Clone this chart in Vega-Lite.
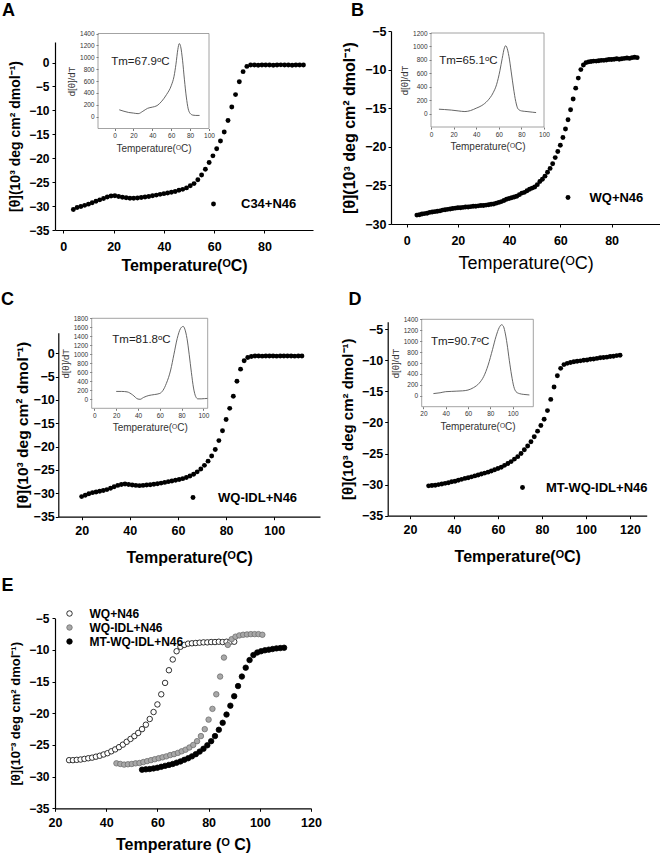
{
"$schema": "https://vega.github.io/schema/vega-lite/v6.json",
"width": 660, "height": 856, "autosize": "none", "padding": 0,
"config": {"view": {"stroke": null}, "axis": {"grid": false, "labelFont": "Liberation Sans", "titleFont": "Liberation Sans", "labelFlush": false, "labelOverlap": false, "format": "d"}, "text": {"font": "Liberation Sans"}},
"datasets": {
"a": [{"t":4,"v":-30.7},{"t":5.5,"v":-30.3},{"t":7,"v":-30.1},{"t":8.5,"v":-29.85},{"t":10,"v":-29.6},{"t":11.5,"v":-29.3},{"t":13,"v":-29.0},{"t":14.5,"v":-28.7},{"t":16,"v":-28.4},{"t":17.5,"v":-28.1},{"t":19,"v":-27.9},{"t":20.5,"v":-27.85},{"t":22,"v":-28.0},{"t":23.5,"v":-28.15},{"t":25,"v":-28.25},{"t":26.5,"v":-28.35},{"t":28,"v":-28.35},{"t":29.5,"v":-28.3},{"t":31,"v":-28.2},{"t":32.5,"v":-28.1},{"t":34,"v":-28.0},{"t":35.5,"v":-27.85},{"t":37,"v":-27.7},{"t":38.5,"v":-27.55},{"t":40,"v":-27.4},{"t":41.5,"v":-27.25},{"t":43,"v":-27.1},{"t":44.5,"v":-26.95},{"t":46,"v":-26.7},{"t":47.5,"v":-26.5},{"t":49,"v":-26.2},{"t":50.5,"v":-25.75},{"t":52,"v":-25.3},{"t":53.5,"v":-24.5},{"t":55,"v":-23.5},{"t":56.5,"v":-22.3},{"t":58,"v":-20.9},{"t":59.5,"v":-19.5},{"t":61,"v":-18.0},{"t":62.5,"v":-16.4},{"t":64,"v":-14.5},{"t":65.5,"v":-12.1},{"t":67,"v":-9.3},{"t":68.5,"v":-6.7},{"t":70,"v":-4.0},{"t":71.5,"v":-1.9},{"t":73,"v":-0.8},{"t":74.5,"v":-0.5},{"t":76,"v":-0.5},{"t":77.5,"v":-0.55},{"t":79,"v":-0.5},{"t":80.5,"v":-0.52},{"t":82,"v":-0.5},{"t":83.5,"v":-0.55},{"t":85,"v":-0.5},{"t":86.5,"v":-0.48},{"t":88,"v":-0.52},{"t":89.5,"v":-0.5},{"t":91,"v":-0.55},{"t":92.5,"v":-0.5},{"t":94,"v":-0.52},{"t":95.5,"v":-0.5}],
"b": [{"t":4,"v":-28.85},{"t":5,"v":-28.8},{"t":6,"v":-28.7},{"t":7,"v":-28.65},{"t":8,"v":-28.6},{"t":9,"v":-28.5},{"t":10,"v":-28.45},{"t":11,"v":-28.4},{"t":12,"v":-28.35},{"t":13,"v":-28.3},{"t":14,"v":-28.2},{"t":15,"v":-28.15},{"t":16,"v":-28.1},{"t":17,"v":-28.05},{"t":18,"v":-28.0},{"t":19,"v":-27.95},{"t":20,"v":-27.9},{"t":21,"v":-27.9},{"t":22,"v":-27.85},{"t":23,"v":-27.8},{"t":24,"v":-27.8},{"t":25,"v":-27.75},{"t":26,"v":-27.7},{"t":27,"v":-27.7},{"t":28,"v":-27.65},{"t":29,"v":-27.6},{"t":30,"v":-27.6},{"t":31,"v":-27.55},{"t":32,"v":-27.5},{"t":33,"v":-27.45},{"t":34,"v":-27.4},{"t":35,"v":-27.3},{"t":36,"v":-27.2},{"t":37,"v":-27.1},{"t":38,"v":-26.95},{"t":39,"v":-26.8},{"t":40,"v":-26.7},{"t":41,"v":-26.6},{"t":42,"v":-26.5},{"t":43,"v":-26.4},{"t":44,"v":-26.2},{"t":45,"v":-26.0},{"t":46,"v":-25.9},{"t":47,"v":-25.7},{"t":48,"v":-25.5},{"t":49,"v":-25.35},{"t":50,"v":-25.2},{"t":51,"v":-24.9},{"t":52,"v":-24.5},{"t":53,"v":-24.2},{"t":54,"v":-23.8},{"t":55,"v":-23.3},{"t":56,"v":-22.8},{"t":57,"v":-22.2},{"t":58,"v":-21.4},{"t":59,"v":-20.6},{"t":60,"v":-19.8},{"t":61,"v":-18.8},{"t":62,"v":-17.7},{"t":63,"v":-16.5},{"t":64,"v":-15.2},{"t":65,"v":-13.8},{"t":66,"v":-12.4},{"t":67,"v":-11.1},{"t":68,"v":-10.0},{"t":69,"v":-9.4},{"t":70,"v":-9.1},{"t":71,"v":-9.0},{"t":72,"v":-8.95},{"t":73,"v":-8.9},{"t":74,"v":-8.9},{"t":75,"v":-8.85},{"t":76,"v":-8.8},{"t":77,"v":-8.8},{"t":78,"v":-8.75},{"t":79,"v":-8.7},{"t":80,"v":-8.7},{"t":81,"v":-8.65},{"t":82,"v":-8.6},{"t":83,"v":-8.65},{"t":84,"v":-8.6},{"t":85,"v":-8.55},{"t":86,"v":-8.5},{"t":87,"v":-8.55},{"t":88,"v":-8.45},{"t":89,"v":-8.4},{"t":90,"v":-8.45}],
"c": [{"t":20,"v":-30.7},{"t":21.5,"v":-30.4},{"t":23,"v":-30.1},{"t":24.5,"v":-29.85},{"t":26,"v":-29.7},{"t":27.5,"v":-29.55},{"t":29,"v":-29.4},{"t":30.5,"v":-29.2},{"t":32,"v":-28.9},{"t":33.5,"v":-28.6},{"t":35,"v":-28.3},{"t":36.5,"v":-28.1},{"t":38,"v":-28.0},{"t":39.5,"v":-28.1},{"t":41,"v":-28.2},{"t":42.5,"v":-28.3},{"t":44,"v":-28.35},{"t":45.5,"v":-28.3},{"t":47,"v":-28.2},{"t":48.5,"v":-28.15},{"t":50,"v":-28.05},{"t":51.5,"v":-27.95},{"t":53,"v":-27.8},{"t":54.5,"v":-27.65},{"t":56,"v":-27.5},{"t":57.5,"v":-27.35},{"t":59,"v":-27.2},{"t":60.5,"v":-27.05},{"t":62,"v":-26.85},{"t":63.5,"v":-26.6},{"t":65,"v":-26.3},{"t":66.5,"v":-25.9},{"t":68,"v":-25.4},{"t":69.5,"v":-24.8},{"t":71,"v":-24.0},{"t":72.5,"v":-23.1},{"t":74,"v":-22.0},{"t":75.5,"v":-20.6},{"t":77,"v":-18.7},{"t":78.5,"v":-16.6},{"t":80,"v":-14.2},{"t":81.5,"v":-11.8},{"t":83,"v":-9.2},{"t":84.5,"v":-6.0},{"t":86,"v":-3.4},{"t":87.5,"v":-1.6},{"t":89,"v":-0.9},{"t":90.5,"v":-0.7},{"t":92,"v":-0.6},{"t":93.5,"v":-0.6},{"t":95,"v":-0.62},{"t":96.5,"v":-0.6},{"t":98,"v":-0.58},{"t":99.5,"v":-0.6},{"t":101,"v":-0.62},{"t":102.5,"v":-0.6},{"t":104,"v":-0.6},{"t":105.5,"v":-0.58},{"t":107,"v":-0.6},{"t":108.5,"v":-0.62},{"t":110,"v":-0.6},{"t":111.5,"v":-0.6}],
"d": [{"t":28.5,"v":-30.2},{"t":30,"v":-30.15},{"t":31.5,"v":-30.1},{"t":33,"v":-30.0},{"t":34.5,"v":-29.9},{"t":36,"v":-29.8},{"t":37.5,"v":-29.7},{"t":39,"v":-29.55},{"t":40.5,"v":-29.45},{"t":42,"v":-29.3},{"t":43.5,"v":-29.15},{"t":45,"v":-29.0},{"t":46.5,"v":-28.9},{"t":48,"v":-28.75},{"t":49.5,"v":-28.6},{"t":51,"v":-28.45},{"t":52.5,"v":-28.3},{"t":54,"v":-28.15},{"t":55.5,"v":-28.0},{"t":57,"v":-27.8},{"t":58.5,"v":-27.6},{"t":60,"v":-27.4},{"t":61.5,"v":-27.2},{"t":63,"v":-26.9},{"t":64.5,"v":-26.6},{"t":66,"v":-26.3},{"t":67.5,"v":-25.9},{"t":69,"v":-25.5},{"t":70.5,"v":-25.0},{"t":72,"v":-24.4},{"t":73.5,"v":-23.8},{"t":75,"v":-23.1},{"t":76.5,"v":-22.3},{"t":78,"v":-21.4},{"t":79.5,"v":-20.5},{"t":81,"v":-19.5},{"t":82.5,"v":-18.1},{"t":84,"v":-16.3},{"t":85.5,"v":-14.3},{"t":87,"v":-12.5},{"t":88.5,"v":-11.3},{"t":90,"v":-10.7},{"t":91.5,"v":-10.5},{"t":93,"v":-10.35},{"t":94.5,"v":-10.25},{"t":96,"v":-10.15},{"t":97.5,"v":-10.1},{"t":99,"v":-10.0},{"t":100.5,"v":-9.95},{"t":102,"v":-9.85},{"t":103.5,"v":-9.8},{"t":105,"v":-9.7},{"t":106.5,"v":-9.6},{"t":108,"v":-9.55},{"t":109.5,"v":-9.5},{"t":111,"v":-9.4},{"t":112.5,"v":-9.35},{"t":114,"v":-9.25},{"t":115.5,"v":-9.2}],
"e": [{"s":"WQ+N46","t":25.5,"v":-27.4},{"s":"WQ+N46","t":27,"v":-27.4},{"s":"WQ+N46","t":28.5,"v":-27.35},{"s":"WQ+N46","t":30,"v":-27.3},{"s":"WQ+N46","t":31.5,"v":-27.2},{"s":"WQ+N46","t":33,"v":-27.1},{"s":"WQ+N46","t":34.5,"v":-27.0},{"s":"WQ+N46","t":36,"v":-26.85},{"s":"WQ+N46","t":37.5,"v":-26.7},{"s":"WQ+N46","t":39,"v":-26.5},{"s":"WQ+N46","t":40.5,"v":-26.3},{"s":"WQ+N46","t":42,"v":-26.0},{"s":"WQ+N46","t":43.5,"v":-25.7},{"s":"WQ+N46","t":45,"v":-25.35},{"s":"WQ+N46","t":46.5,"v":-24.95},{"s":"WQ+N46","t":48,"v":-24.5},{"s":"WQ+N46","t":49.5,"v":-24.05},{"s":"WQ+N46","t":51,"v":-23.6},{"s":"WQ+N46","t":52.5,"v":-23.1},{"s":"WQ+N46","t":54,"v":-22.5},{"s":"WQ+N46","t":55.5,"v":-21.8},{"s":"WQ+N46","t":57,"v":-20.9},{"s":"WQ+N46","t":58.5,"v":-19.8},{"s":"WQ+N46","t":60,"v":-18.6},{"s":"WQ+N46","t":61.5,"v":-17.0},{"s":"WQ+N46","t":63,"v":-15.2},{"s":"WQ+N46","t":64.5,"v":-13.2},{"s":"WQ+N46","t":66,"v":-11.5},{"s":"WQ+N46","t":67.5,"v":-10.2},{"s":"WQ+N46","t":69,"v":-9.5},{"s":"WQ+N46","t":70.5,"v":-9.2},{"s":"WQ+N46","t":72,"v":-9.0},{"s":"WQ+N46","t":73.5,"v":-8.95},{"s":"WQ+N46","t":75,"v":-8.9},{"s":"WQ+N46","t":76.5,"v":-8.85},{"s":"WQ+N46","t":78,"v":-8.8},{"s":"WQ+N46","t":79.5,"v":-8.8},{"s":"WQ+N46","t":81,"v":-8.75},{"s":"WQ+N46","t":82.5,"v":-8.75},{"s":"WQ+N46","t":84,"v":-8.7},{"s":"WQ+N46","t":85.5,"v":-8.75},{"s":"WQ+N46","t":87,"v":-8.7},{"s":"WQ+N46","t":88.5,"v":-8.7},{"s":"WQ+N46","t":90,"v":-8.7},
{"s":"WQ-IDL+N46","t":44,"v":-27.9},{"s":"WQ-IDL+N46","t":45.5,"v":-28.0},{"s":"WQ-IDL+N46","t":47,"v":-28.1},{"s":"WQ-IDL+N46","t":48.5,"v":-28.05},{"s":"WQ-IDL+N46","t":50,"v":-28.0},{"s":"WQ-IDL+N46","t":51.5,"v":-27.9},{"s":"WQ-IDL+N46","t":53,"v":-27.85},{"s":"WQ-IDL+N46","t":54.5,"v":-27.7},{"s":"WQ-IDL+N46","t":56,"v":-27.55},{"s":"WQ-IDL+N46","t":57.5,"v":-27.4},{"s":"WQ-IDL+N46","t":59,"v":-27.25},{"s":"WQ-IDL+N46","t":60.5,"v":-27.1},{"s":"WQ-IDL+N46","t":62,"v":-26.95},{"s":"WQ-IDL+N46","t":63.5,"v":-26.8},{"s":"WQ-IDL+N46","t":65,"v":-26.6},{"s":"WQ-IDL+N46","t":66.5,"v":-26.45},{"s":"WQ-IDL+N46","t":68,"v":-26.25},{"s":"WQ-IDL+N46","t":69.5,"v":-26.0},{"s":"WQ-IDL+N46","t":71,"v":-25.75},{"s":"WQ-IDL+N46","t":72.5,"v":-25.4},{"s":"WQ-IDL+N46","t":74,"v":-25.0},{"s":"WQ-IDL+N46","t":75.5,"v":-24.4},{"s":"WQ-IDL+N46","t":77,"v":-23.6},{"s":"WQ-IDL+N46","t":78.5,"v":-22.5},{"s":"WQ-IDL+N46","t":80,"v":-21.0},{"s":"WQ-IDL+N46","t":81.5,"v":-19.3},{"s":"WQ-IDL+N46","t":83,"v":-17.0},{"s":"WQ-IDL+N46","t":84.5,"v":-14.2},{"s":"WQ-IDL+N46","t":86,"v":-11.2},{"s":"WQ-IDL+N46","t":87.5,"v":-9.2},{"s":"WQ-IDL+N46","t":89,"v":-8.3},{"s":"WQ-IDL+N46","t":90.5,"v":-7.9},{"s":"WQ-IDL+N46","t":92,"v":-7.7},{"s":"WQ-IDL+N46","t":93.5,"v":-7.6},{"s":"WQ-IDL+N46","t":95,"v":-7.55},{"s":"WQ-IDL+N46","t":96.5,"v":-7.5},{"s":"WQ-IDL+N46","t":98,"v":-7.5},{"s":"WQ-IDL+N46","t":99.5,"v":-7.5},{"s":"WQ-IDL+N46","t":101,"v":-7.6},
{"s":"MT-WQ-IDL+N46","t":54,"v":-28.9},{"s":"MT-WQ-IDL+N46","t":55.5,"v":-28.85},{"s":"MT-WQ-IDL+N46","t":57,"v":-28.8},{"s":"MT-WQ-IDL+N46","t":58.5,"v":-28.7},{"s":"MT-WQ-IDL+N46","t":60,"v":-28.6},{"s":"MT-WQ-IDL+N46","t":61.5,"v":-28.45},{"s":"MT-WQ-IDL+N46","t":63,"v":-28.3},{"s":"MT-WQ-IDL+N46","t":64.5,"v":-28.15},{"s":"MT-WQ-IDL+N46","t":66,"v":-28.0},{"s":"MT-WQ-IDL+N46","t":67.5,"v":-27.8},{"s":"MT-WQ-IDL+N46","t":69,"v":-27.6},{"s":"MT-WQ-IDL+N46","t":70.5,"v":-27.35},{"s":"MT-WQ-IDL+N46","t":72,"v":-27.1},{"s":"MT-WQ-IDL+N46","t":73.5,"v":-26.8},{"s":"MT-WQ-IDL+N46","t":75,"v":-26.45},{"s":"MT-WQ-IDL+N46","t":76.5,"v":-26.05},{"s":"MT-WQ-IDL+N46","t":78,"v":-25.6},{"s":"MT-WQ-IDL+N46","t":79.5,"v":-25.05},{"s":"MT-WQ-IDL+N46","t":81,"v":-24.4},{"s":"MT-WQ-IDL+N46","t":82.5,"v":-23.6},{"s":"MT-WQ-IDL+N46","t":84,"v":-22.6},{"s":"MT-WQ-IDL+N46","t":85.5,"v":-21.5},{"s":"MT-WQ-IDL+N46","t":87,"v":-20.2},{"s":"MT-WQ-IDL+N46","t":88.5,"v":-18.8},{"s":"MT-WQ-IDL+N46","t":90,"v":-17.3},{"s":"MT-WQ-IDL+N46","t":91.5,"v":-15.7},{"s":"MT-WQ-IDL+N46","t":93,"v":-14.2},{"s":"MT-WQ-IDL+N46","t":94.5,"v":-12.8},{"s":"MT-WQ-IDL+N46","t":96,"v":-11.6},{"s":"MT-WQ-IDL+N46","t":97.5,"v":-10.8},{"s":"MT-WQ-IDL+N46","t":99,"v":-10.4},{"s":"MT-WQ-IDL+N46","t":100.5,"v":-10.2},{"s":"MT-WQ-IDL+N46","t":102,"v":-10.05},{"s":"MT-WQ-IDL+N46","t":103.5,"v":-9.95},{"s":"MT-WQ-IDL+N46","t":105,"v":-9.85},{"s":"MT-WQ-IDL+N46","t":106.5,"v":-9.75},{"s":"MT-WQ-IDL+N46","t":108,"v":-9.7},{"s":"MT-WQ-IDL+N46","t":109.5,"v":-9.65}],
"ia": [{"t":5,"d":115},{"t":10,"d":90},{"t":15,"d":70},{"t":20,"d":60},{"t":25,"d":50},{"t":30,"d":90},{"t":35,"d":140},{"t":40,"d":160},{"t":45,"d":185},{"t":50,"d":260},{"t":55,"d":370},{"t":60,"d":520},{"t":63,"d":680},{"t":65,"d":880},{"t":67,"d":1130},{"t":68.5,"d":1230},{"t":70,"d":1180},{"t":72,"d":950},{"t":74,"d":620},{"t":76,"d":330},{"t":78,"d":130},{"t":80,"d":55},{"t":83,"d":25},{"t":86,"d":20},{"t":90,"d":20}],
"ib": [{"t":7,"d":65},{"t":12,"d":60},{"t":18,"d":52},{"t":24,"d":40},{"t":30,"d":30},{"t":35,"d":45},{"t":40,"d":80},{"t":45,"d":120},{"t":50,"d":190},{"t":55,"d":310},{"t":58,"d":430},{"t":61,"d":640},{"t":63,"d":820},{"t":65,"d":980},{"t":66,"d":1010},{"t":67,"d":990},{"t":69,"d":850},{"t":71,"d":620},{"t":73,"d":380},{"t":75,"d":180},{"t":77,"d":70},{"t":80,"d":40},{"t":85,"d":30},{"t":90,"d":20},{"t":93,"d":15}],
"ic": [{"t":20,"d":175},{"t":25,"d":175},{"t":30,"d":165},{"t":35,"d":100},{"t":40,"d":5},{"t":42,"d":0},{"t":45,"d":40},{"t":50,"d":85},{"t":55,"d":105},{"t":60,"d":130},{"t":63,"d":200},{"t":66,"d":350},{"t":70,"d":650},{"t":73,"d":1000},{"t":76,"d":1350},{"t":79,"d":1570},{"t":81.5,"d":1620},{"t":83,"d":1560},{"t":85,"d":1350},{"t":87,"d":1000},{"t":89,"d":600},{"t":91,"d":250},{"t":93,"d":60},{"t":95,"d":10},{"t":98,"d":10},{"t":101,"d":15},{"t":104,"d":20}],
"id": [{"t":29,"d":40},{"t":35,"d":55},{"t":40,"d":75},{"t":45,"d":80},{"t":50,"d":85},{"t":55,"d":90},{"t":60,"d":105},{"t":65,"d":150},{"t":70,"d":230},{"t":74,"d":350},{"t":78,"d":560},{"t":82,"d":850},{"t":85,"d":1080},{"t":88,"d":1250},{"t":90,"d":1300},{"t":91.5,"d":1280},{"t":93,"d":1180},{"t":95,"d":950},{"t":97,"d":650},{"t":99,"d":380},{"t":101,"d":170},{"t":103,"d":75},{"t":106,"d":40},{"t":110,"d":25},{"t":115,"d":15}]
},
"layer": [
{"layer": [
 {"data": {"name": "a"}, "mark": {"type": "point", "filled": true, "size": 24, "opacity": 1},
  "encoding": {
   "x": {"field": "t", "type": "quantitative", "scale": {"domain": [-3.3, 99.3], "range": [55, 313], "nice": false, "zero": false},
    "axis": {"orient": "bottom", "offset": -626, "values": [0,20,40,60,80], "title": "Temperature(ᴼC)", "domainColor": "black", "domainWidth": 1.2, "tickColor": "black", "tickSize": 3, "labelFontSize": 12.5, "labelFontWeight": "bold", "labelColor": "black", "labelPadding": 7, "titleFontSize": 16, "titleFontWeight": "bold", "titleColor": "black", "titlePadding": 5}},
   "y": {"field": "v", "type": "quantitative", "scale": {"domain": [-35, 4.3], "range": [230, 42], "nice": false, "zero": false},
    "axis": {"orient": "left", "offset": -55, "values": [-35,-30,-25,-20,-15,-10,-5,0], "title": "[θ](10³ deg cm² dmol⁻¹)", "domainColor": "black", "domainWidth": 1.2, "tickColor": "black", "tickSize": 3, "labelFontSize": 12, "labelFontWeight": "bold", "labelColor": "black", "labelPadding": 3, "titleFontSize": 14, "titleFontWeight": "bold", "titleColor": "black", "titlePadding": 6}},
   "fill": {"datum": "C34+N46", "type": "nominal", "scale": {"range": ["black"]}, "legend": {"title": null, "orient": "none", "legendX": 207, "legendY": 197.5, "padding": 0, "labelFont": "Liberation Sans", "labelFontSize": 13, "labelFontWeight": "bold", "labelColor": "black", "labelOffset": 21, "symbolSize": 24, "symbolType": "circle", "symbolStrokeWidth": 0}}
  }},
 {"data": {"values": [{"k": "A"}]}, "mark": {"type": "text", "fontSize": 18, "fontWeight": "bold", "align": "center", "baseline": "middle", "color": "black"},
  "encoding": {"x": {"datum": -21.8}, "y": {"datum": 10.8}, "text": {"field": "k"}}}
]},
{"layer": [
 {"data": {"name": "ia"}, "mark": {"type": "line", "color": "#555555", "strokeWidth": 0.9, "interpolate": "monotone"},
  "encoding": {
   "x": {"field": "t", "type": "quantitative", "scale": {"domain": [-17.5, 100], "range": [98, 209], "nice": false, "zero": false},
    "axis": {"orient": "bottom", "offset": -727.5, "values": [0,20,40,60,80,100], "title": "Temperature(ᴼC)", "domain": false, "tickColor": "#777777", "tickSize": 2, "labelFontSize": 6.5, "labelColor": "#333333", "labelPadding": 2, "titleFontSize": 10, "titleFontWeight": "normal", "titleColor": "#333333", "titlePadding": 4}},
   "y": {"field": "d", "type": "quantitative", "scale": {"domain": [-200, 1400], "range": [128.5, 33.5], "nice": false, "zero": false},
    "axis": {"orient": "left", "offset": -98, "values": [0,200,400,600,800,1000,1200,1400], "title": "d[θ]/dT", "domain": false, "tickColor": "#777777", "tickSize": 2, "labelFontSize": 6.5, "labelColor": "#333333", "labelPadding": 2, "titleFontSize": 9.5, "titleFontWeight": "normal", "titleColor": "#333333", "titlePadding": 3}}
  }},
 {"data": {"values": [{}]}, "mark": {"type": "rect", "filled": false, "stroke": "#8c8c8c", "strokeWidth": 0.8},
  "encoding": {"x": {"datum": -17.5}, "x2": {"datum": 100}, "y": {"datum": -200}, "y2": {"datum": 1400}}},
 {"data": {"values": [{"k": "Tm=67.9ᵒC"}]}, "mark": {"type": "text", "fontSize": 11.5, "align": "left", "baseline": "middle", "color": "#222222"},
  "encoding": {"x": {"datum": -3.5}, "y": {"datum": 916}, "text": {"field": "k"}}}
]},
{"layer": [
 {"data": {"name": "b"}, "mark": {"type": "point", "filled": true, "size": 24, "opacity": 1},
  "encoding": {
   "x": {"field": "t", "type": "quantitative", "scale": {"domain": [-6.1, 98.9], "range": [391, 660], "nice": false, "zero": false},
    "axis": {"orient": "bottom", "offset": -632, "values": [0,20,40,60,80], "title": "Temperature(ᴼC)", "domainColor": "black", "domainWidth": 1.2, "tickColor": "black", "tickSize": 3, "labelFontSize": 12.5, "labelFontWeight": "bold", "labelColor": "black", "labelPadding": 7, "titleFontSize": 18, "titleFontWeight": "normal", "titleColor": "black", "titlePadding": 8}},
   "y": {"field": "v", "type": "quantitative", "scale": {"domain": [-30, -5], "range": [224, 31], "nice": false, "zero": false},
    "axis": {"orient": "left", "offset": -391, "values": [-30,-25,-20,-15,-10,-5], "title": "[θ](10³ deg cm² dmol⁻¹)", "domainColor": "black", "domainWidth": 1.2, "tickColor": "black", "tickSize": 3, "labelFontSize": 12.5, "labelFontWeight": "bold", "labelColor": "black", "labelPadding": 2, "titleFontSize": 16, "titleFontWeight": "bold", "titleColor": "black", "titlePadding": 7}},
   "fill": {"datum": "WQ+N46", "type": "nominal", "scale": {"range": ["black"]}, "legend": {"title": null, "orient": "none", "legendX": 561.5, "legendY": 191, "padding": 0, "labelFont": "Liberation Sans", "labelFontSize": 13, "labelFontWeight": "bold", "labelColor": "black", "labelOffset": 15, "symbolSize": 24, "symbolType": "circle", "symbolStrokeWidth": 0}}
  }},
 {"data": {"values": [{"k": "B"}]}, "mark": {"type": "text", "fontSize": 18, "fontWeight": "bold", "align": "center", "baseline": "middle", "color": "black"},
  "encoding": {"x": {"datum": -19.2}, "y": {"datum": -2.4}, "text": {"field": "k"}}}
]},
{"layer": [
 {"data": {"name": "ib"}, "mark": {"type": "line", "color": "#555555", "strokeWidth": 0.9, "interpolate": "monotone"},
  "encoding": {
   "x": {"field": "t", "type": "quantitative", "scale": {"domain": [0, 100], "range": [431, 544], "nice": false, "zero": false},
    "axis": {"orient": "bottom", "offset": -729, "values": [0,20,40,60,80,100], "title": "Temperature(ᴼC)", "domain": false, "tickColor": "#777777", "tickSize": 2, "labelFontSize": 6.5, "labelColor": "#333333", "labelPadding": 2, "titleFontSize": 10, "titleFontWeight": "normal", "titleColor": "#333333", "titlePadding": 4}},
   "y": {"field": "d", "type": "quantitative", "scale": {"domain": [-200, 1200], "range": [127, 33], "nice": false, "zero": false},
    "axis": {"orient": "left", "offset": -431, "values": [0,200,400,600,800,1000,1200], "title": "d[θ]/dT", "domain": false, "tickColor": "#777777", "tickSize": 2, "labelFontSize": 6.5, "labelColor": "#333333", "labelPadding": 2, "titleFontSize": 9.5, "titleFontWeight": "normal", "titleColor": "#333333", "titlePadding": 3}}
  }},
 {"data": {"values": [{}]}, "mark": {"type": "rect", "filled": false, "stroke": "#8c8c8c", "strokeWidth": 0.8},
  "encoding": {"x": {"datum": 0}, "x2": {"datum": 100}, "y": {"datum": -200}, "y2": {"datum": 1200}}},
 {"data": {"values": [{"k": "Tm=65.1ᵒC"}]}, "mark": {"type": "text", "fontSize": 11.5, "align": "left", "baseline": "middle", "color": "#222222"},
  "encoding": {"x": {"datum": 7.3}, "y": {"datum": 776}, "text": {"field": "k"}}}
]},
{"layer": [
 {"data": {"name": "c"}, "mark": {"type": "point", "filled": true, "size": 24, "opacity": 1},
  "encoding": {
   "x": {"field": "t", "type": "quantitative", "scale": {"domain": [10.3, 119], "range": [58.3, 320], "nice": false, "zero": false},
    "axis": {"orient": "bottom", "offset": -339.3, "values": [20,40,60,80,100], "title": "Temperature(ᴼC)", "domainColor": "black", "domainWidth": 1.2, "tickColor": "black", "tickSize": 3, "labelFontSize": 12.5, "labelFontWeight": "bold", "labelColor": "black", "labelPadding": 5, "titleFontSize": 16, "titleFontWeight": "bold", "titleColor": "black", "titlePadding": 12}},
   "y": {"field": "v", "type": "quantitative", "scale": {"domain": [-35, 4.4], "range": [516.7, 332.7], "nice": false, "zero": false},
    "axis": {"orient": "left", "offset": -58.3, "values": [-35,-30,-25,-20,-15,-10,-5,0], "title": "[θ](10³ deg cm² dmol⁻¹)", "domainColor": "black", "domainWidth": 1.2, "tickColor": "black", "tickSize": 3, "labelFontSize": 12.5, "labelFontWeight": "bold", "labelColor": "black", "labelPadding": 1, "titleFontSize": 15.5, "titleFontWeight": "bold", "titleColor": "black", "titlePadding": 3}},
   "fill": {"datum": "WQ-IDL+N46", "type": "nominal", "scale": {"range": ["black"]}, "legend": {"title": null, "orient": "none", "legendX": 186.5, "legendY": 491, "padding": 0, "labelFont": "Liberation Sans", "labelFontSize": 13, "labelFontWeight": "bold", "labelColor": "black", "labelOffset": 18.5, "symbolSize": 24, "symbolType": "circle", "symbolStrokeWidth": 0}}
  }},
 {"data": {"values": [{"k": "C"}]}, "mark": {"type": "text", "fontSize": 18, "fontWeight": "bold", "align": "center", "baseline": "middle", "color": "black"},
  "encoding": {"x": {"datum": -10.8}, "y": {"datum": 11.4}, "text": {"field": "k"}}}
]},
{"layer": [
 {"data": {"name": "ic"}, "mark": {"type": "line", "color": "#555555", "strokeWidth": 0.9, "interpolate": "monotone"},
  "encoding": {
   "x": {"field": "t", "type": "quantitative", "scale": {"domain": [-2.5, 104], "range": [91.7, 207.7], "nice": false, "zero": false},
    "axis": {"orient": "bottom", "offset": -447.7, "values": [0,20,40,60,80,100], "title": "Temperature(ᴼC)", "domain": false, "tickColor": "#777777", "tickSize": 2, "labelFontSize": 6.5, "labelColor": "#333333", "labelPadding": 2, "titleFontSize": 10, "titleFontWeight": "normal", "titleColor": "#333333", "titlePadding": 4}},
   "y": {"field": "d", "type": "quantitative", "scale": {"domain": [-200, 1800], "range": [408.3, 318.3], "nice": false, "zero": false},
    "axis": {"orient": "left", "offset": -91.7, "values": [0,200,400,600,800,1000,1200,1400,1600,1800], "title": "d[θ]/dT", "domain": false, "tickColor": "#777777", "tickSize": 2, "labelFontSize": 6.5, "labelColor": "#333333", "labelPadding": 2, "titleFontSize": 9.5, "titleFontWeight": "normal", "titleColor": "#333333", "titlePadding": 3}}
  }},
 {"data": {"values": [{}]}, "mark": {"type": "rect", "filled": false, "stroke": "#8c8c8c", "strokeWidth": 0.8},
  "encoding": {"x": {"datum": -2.5}, "x2": {"datum": 104}, "y": {"datum": -200}, "y2": {"datum": 1800}}},
 {"data": {"values": [{"k": "Tm=81.8ᵒC"}]}, "mark": {"type": "text", "fontSize": 11.5, "align": "left", "baseline": "middle", "color": "#222222"},
  "encoding": {"x": {"datum": 16.4}, "y": {"datum": 1318}, "text": {"field": "k"}}}
]},
{"layer": [
 {"data": {"name": "d"}, "mark": {"type": "point", "filled": true, "size": 24, "opacity": 1},
  "encoding": {
   "x": {"field": "t", "type": "quantitative", "scale": {"domain": [9.9, 127.6], "range": [387.7, 646.7], "nice": false, "zero": false},
    "axis": {"orient": "bottom", "offset": -340.3, "values": [20,40,60,80,100,120], "title": "Temperature(ᴼC)", "domainColor": "black", "domainWidth": 1.2, "tickColor": "black", "tickSize": 3, "labelFontSize": 12.5, "labelFontWeight": "bold", "labelColor": "black", "labelPadding": 5, "titleFontSize": 16, "titleFontWeight": "bold", "titleColor": "black", "titlePadding": 12}},
   "y": {"field": "v", "type": "quantitative", "scale": {"domain": [-35, -3.8], "range": [515.7, 321.7], "nice": false, "zero": false},
    "axis": {"orient": "left", "offset": -387.7, "values": [-35,-30,-25,-20,-15,-10,-5], "title": "[θ](10³ deg cm² dmol⁻¹)", "domainColor": "black", "domainWidth": 1.2, "tickColor": "black", "tickSize": 3, "labelFontSize": 12.5, "labelFontWeight": "bold", "labelColor": "black", "labelPadding": 2, "titleFontSize": 15, "titleFontWeight": "bold", "titleColor": "black", "titlePadding": 6}},
   "fill": {"datum": "MT-WQ-IDL+N46", "type": "nominal", "scale": {"range": ["black"]}, "legend": {"title": null, "orient": "none", "legendX": 516, "legendY": 481, "padding": 0, "labelFont": "Liberation Sans", "labelFontSize": 13, "labelFontWeight": "bold", "labelColor": "black", "labelOffset": 17, "symbolSize": 24, "symbolType": "circle", "symbolStrokeWidth": 0}}
  }},
 {"data": {"values": [{"k": "D"}]}, "mark": {"type": "text", "fontSize": 18, "fontWeight": "bold", "align": "center", "baseline": "middle", "color": "black"},
  "encoding": {"x": {"datum": -5}, "y": {"datum": -0.34}, "text": {"field": "k"}}}
]},
{"layer": [
 {"data": {"name": "id"}, "mark": {"type": "line", "color": "#555555", "strokeWidth": 0.9, "interpolate": "monotone"},
  "encoding": {
   "x": {"field": "t", "type": "quantitative", "scale": {"domain": [18.5, 118.5], "range": [421.7, 533.3], "nice": false, "zero": false},
    "axis": {"orient": "bottom", "offset": -449.3, "values": [20,40,60,80,100], "title": "Temperature(ᴼC)", "domain": false, "tickColor": "#777777", "tickSize": 2, "labelFontSize": 6.5, "labelColor": "#333333", "labelPadding": 2, "titleFontSize": 10, "titleFontWeight": "normal", "titleColor": "#333333", "titlePadding": 4}},
   "y": {"field": "d", "type": "quantitative", "scale": {"domain": [-200, 1400], "range": [406.7, 319.3], "nice": false, "zero": false},
    "axis": {"orient": "left", "offset": -421.7, "values": [0,200,400,600,800,1000,1200,1400], "title": "d[θ]/dT", "domain": false, "tickColor": "#777777", "tickSize": 2, "labelFontSize": 6.5, "labelColor": "#333333", "labelPadding": 2, "titleFontSize": 9.5, "titleFontWeight": "normal", "titleColor": "#333333", "titlePadding": 3}}
  }},
 {"data": {"values": [{}]}, "mark": {"type": "rect", "filled": false, "stroke": "#8c8c8c", "strokeWidth": 0.8},
  "encoding": {"x": {"datum": 18.5}, "x2": {"datum": 118.5}, "y": {"datum": -200}, "y2": {"datum": 1400}}},
 {"data": {"values": [{"k": "Tm=90.7ᵒC"}]}, "mark": {"type": "text", "fontSize": 11.5, "align": "left", "baseline": "middle", "color": "#222222"},
  "encoding": {"x": {"datum": 26.8}, "y": {"datum": 990}, "text": {"field": "k"}}}
]},
{"layer": [
 {"data": {"name": "e"}, "mark": {"type": "point", "filled": true, "size": 30, "opacity": 1, "strokeWidth": 0.8},
  "encoding": {
   "x": {"field": "t", "type": "quantitative", "scale": {"domain": [20, 120], "range": [55, 311], "nice": false, "zero": false},
    "axis": {"orient": "bottom", "offset": -47.7, "values": [20,40,60,80,100,120], "title": "Temperature (ᴼ C)", "domainColor": "black", "domainWidth": 1.2, "tickColor": "black", "tickSize": 3, "labelFontSize": 12.5, "labelFontWeight": "bold", "labelColor": "black", "labelPadding": 5, "titleFontSize": 16, "titleFontWeight": "bold", "titleColor": "black", "titlePadding": 8}},
   "y": {"field": "v", "type": "quantitative", "scale": {"domain": [-35, -5], "range": [808.3, 618.3], "nice": false, "zero": false},
    "axis": {"orient": "left", "offset": -55, "values": [-35,-30,-25,-20,-15,-10,-5], "title": "[θ](10⁻³ deg cm² dmol⁻¹)", "domainColor": "black", "domainWidth": 1.2, "tickColor": "black", "tickSize": 3, "labelFontSize": 12, "labelFontWeight": "bold", "labelColor": "black", "labelPadding": 3, "titleFontSize": 13, "titleFontWeight": "bold", "titleColor": "black", "titlePadding": 6}},
   "fill": {"field": "s", "type": "nominal", "scale": {"domain": ["WQ+N46", "WQ-IDL+N46", "MT-WQ-IDL+N46"], "range": ["white", "#a8a8a8", "black"]}, "legend": {"title": null, "orient": "none", "legendX": 63.5, "legendY": 607.5, "padding": 0, "rowPadding": 2, "labelFont": "Liberation Sans", "labelFontSize": 12, "labelFontWeight": "bold", "labelColor": "black", "labelOffset": 14, "symbolSize": 30, "symbolType": "circle", "symbolStrokeWidth": 0.8}},
   "stroke": {"field": "s", "type": "nominal", "scale": {"domain": ["WQ+N46", "WQ-IDL+N46", "MT-WQ-IDL+N46"], "range": ["black", "#6e6e6e", "black"]}, "legend": {"title": null, "orient": "none", "legendX": 63.5, "legendY": 607.5, "padding": 0, "rowPadding": 2, "labelFont": "Liberation Sans", "labelFontSize": 12, "labelFontWeight": "bold", "labelColor": "black", "labelOffset": 14, "symbolSize": 30, "symbolType": "circle", "symbolStrokeWidth": 0.8}}
  }},
 {"data": {"values": [{"k": "E"}]}, "mark": {"type": "text", "fontSize": 18, "fontWeight": "bold", "align": "center", "baseline": "middle", "color": "black"},
  "encoding": {"x": {"datum": 1.45}, "y": {"datum": 0.1}, "text": {"field": "k"}}}
]}
],
"resolve": {"scale": {"x": "independent", "y": "independent", "fill": "independent", "stroke": "independent"}, "axis": {"x": "independent", "y": "independent"}, "legend": {"fill": "independent", "stroke": "independent"}}
}
